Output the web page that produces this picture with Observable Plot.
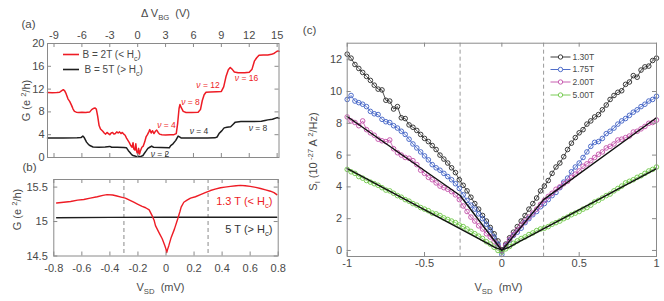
<!DOCTYPE html>
<html><head><meta charset="utf-8">
<script src="https://cdn.jsdelivr.net/npm/d3@7"></script>
<script src="https://cdn.jsdelivr.net/npm/@observablehq/plot@0.6"></script>
<style>
html,body{margin:0;padding:0;background:#fff;}
#wrap{position:relative;width:664px;height:301px;overflow:hidden;background:#fff;}
</style></head><body><div id="wrap"></div>
<script>
// ---------- Panel (a) data: G vs ΔV_BG ----------
const aTicksX = [-9,-6,-3,0,3,6,9,12,15];
const aTicksY = [0,4,8,12,16,20];
const aRedX = [-9.7,-9.2,-8.7,-8.4,-8.2,-8.0,-7.85,-7.7,-7.5,-7.3,-7.1,-6.95,-6.8,-6.6,-6.35,-6.0,-5.6,-5.15,-4.95,-4.75,-4.6,-4.45,-4.3,-4.15,-4.0,-3.75,-3.6,-3.45,-3.3,-3.15,-3.0,-2.85,-2.7,-2.55,-2.4,-2.25,-2.1,-1.95,-1.8,-1.65,-1.5,-1.35,-1.2,-1.05,-0.9,-0.75,-0.6,-0.5,-0.42,-0.3,-0.2,-0.1,0.0,0.1,0.2,0.3,0.45,0.6,0.75,0.9,1.05,1.2,1.3,1.45,1.6,1.75,1.9,2.05,2.2,2.35,2.6,3.0,3.5,3.9,4.15,4.3,4.45,4.55,4.7,4.9,5.2,5.8,6.5,6.75,6.95,7.15,7.35,7.8,8.5,9.0,9.25,9.5,9.75,9.95,10.15,10.4,10.8,11.5,12.0,12.3,12.55,12.8,13.05,13.5,14.0,14.4,14.7,14.95,15.1,15.2];
const aRedY = [11.4,11.35,11.4,11.45,11.7,11.9,11.7,11.2,10.3,9.8,9.1,8.5,8.1,7.95,7.9,7.95,7.9,8.0,8.4,8.6,8.7,8.5,7.2,5.6,5.0,4.6,4.3,4.1,4.4,4.2,4.0,4.3,4.4,4.1,4.2,4.5,4.3,4.5,4.2,4.4,4.1,3.9,3.4,3.0,2.6,2.1,1.8,2.6,1.5,1.3,2.4,1.0,0.6,1.6,0.6,1.2,1.8,2.0,2.7,3.6,4.0,4.5,4.9,4.3,4.7,4.2,4.6,4.8,4.4,4.1,4.0,3.95,4.0,4.0,4.2,6.0,8.6,9.3,8.7,8.1,7.9,7.9,7.95,8.4,10.0,11.0,11.45,11.5,11.55,11.6,12.4,14.2,15.4,15.8,15.5,15.0,14.85,14.85,14.95,15.5,16.9,17.5,17.95,18.0,18.0,18.1,18.3,18.6,18.7,18.6];
const aBlkX = [-9.7,-8,-6.5,-6.1,-5.9,-5.75,-5.5,-5.3,-5.15,-4.8,-4.2,-3.5,-3.0,-2.8,-2.2,-1.5,-1.2,-1.0,-0.85,-0.65,-0.5,-0.3,-0.1,0.1,0.3,0.57,0.75,0.93,1.1,1.3,1.5,1.7,2.5,3.4,3.55,3.8,4.1,4.35,4.5,4.7,6,7.5,8.3,8.55,8.75,8.9,9.1,9.3,9.6,10.0,10.25,10.5,11.1,12,13.3,13.7,14,14.5,15.0,15.2];
const aBlkY = [3.4,3.4,3.45,3.5,3.75,3.5,2.7,2.3,2.1,1.85,1.8,1.85,1.95,1.8,1.8,1.75,1.7,1.2,0.93,0.5,0.35,0.25,0.15,0.2,0.15,0.35,0.8,1.2,1.6,1.8,2.0,1.8,1.75,1.7,2.1,2.4,3.0,3.75,3.6,3.4,3.4,3.4,3.45,3.6,4.2,4.45,4.8,5.2,5.3,5.4,5.8,6.2,6.3,6.3,6.35,6.5,6.6,6.7,7.0,6.9];

// ---------- Panel (b) data: G vs V_SD ----------
const bTicksX = [-0.8,-0.6,-0.4,-0.2,0,0.2,0.4,0.6,0.8];
const bTicksY = [14.5,15,15.5];
const bRedX = [-0.78,-0.73,-0.68,-0.63,-0.586,-0.54,-0.49,-0.45,-0.42,-0.38,-0.35,-0.32,-0.29,-0.26,-0.23,-0.2,-0.17,-0.145,-0.12,-0.1,-0.085,-0.075,-0.05,-0.027,-0.01,0.0,0.005,0.012,0.02,0.037,0.06,0.084,0.1,0.108,0.127,0.15,0.175,0.21,0.246,0.28,0.317,0.35,0.389,0.42,0.46,0.5,0.53,0.565,0.6,0.64,0.674,0.71,0.745,0.77,0.79];
const bRedY = [15.27,15.28,15.29,15.31,15.32,15.34,15.36,15.38,15.39,15.385,15.37,15.355,15.34,15.31,15.28,15.25,15.22,15.2,15.17,15.09,15.02,14.94,14.84,14.75,14.66,14.6,14.55,14.6,14.65,14.77,14.89,15.04,15.15,15.21,15.28,15.31,15.34,15.36,15.39,15.42,15.45,15.47,15.49,15.5,15.51,15.52,15.525,15.52,15.51,15.495,15.48,15.46,15.44,15.42,15.39];
const bBlkX = [-0.78,-0.4,0,0.4,0.79];
const bBlkY = [15.055,15.06,15.062,15.063,15.063];
const bDashed = [-0.3,0.3];

// ---------- Panel (c) data: S_I vs V_SD ----------
const cTicksX = [-1,-0.5,0,0.5,1];
const cTicksY = [0,2,4,6,8,10,12];
const cX = [-1,-0.975,-0.95,-0.925,-0.9,-0.875,-0.85,-0.825,-0.8,-0.775,-0.75,-0.725,-0.7,-0.675,-0.65,-0.625,-0.6,-0.575,-0.55,-0.525,-0.5,-0.475,-0.45,-0.425,-0.4,-0.375,-0.35,-0.325,-0.3,-0.275,-0.25,-0.225,-0.2,-0.175,-0.15,-0.125,-0.1,-0.075,-0.05,-0.025,0,0.025,0.05,0.075,0.1,0.125,0.15,0.175,0.2,0.225,0.25,0.275,0.3,0.325,0.35,0.375,0.4,0.425,0.45,0.475,0.5,0.525,0.55,0.575,0.6,0.625,0.65,0.675,0.7,0.725,0.75,0.775,0.8,0.825,0.85,0.875,0.9,0.925,0.95,0.975,1];
const c130 = [12.35,12.1,11.7,11.45,11.2,10.95,10.7,10.4,10.15,10.1,9.45,9.4,8.9,9.05,8.35,8.3,7.9,7.75,7.55,7.3,7.05,6.85,6.6,6.35,6.0,5.75,5.5,5.2,4.9,4.45,4.1,3.75,3.35,2.95,2.6,2.2,1.85,1.45,1.05,0.6,0.05,0.4,0.8,1.15,1.5,1.85,2.2,2.6,2.95,3.3,3.75,4.05,4.4,4.85,5.25,5.5,5.9,6.35,6.75,7.1,7.4,7.6,7.95,8.15,8.4,8.55,8.85,9.15,9.5,9.75,9.95,10.05,10.45,10.6,11.0,10.9,11.35,11.55,11.6,11.95,12.1];
const c175 = [9.5,9.75,9.4,9.3,9.2,9.05,8.75,8.6,8.55,8.25,8.1,8.05,7.85,7.7,7.5,7.3,7.0,6.7,6.45,6.2,5.95,5.7,5.4,5.2,5.05,4.85,4.65,4.45,4.2,3.9,3.5,3.15,2.85,2.6,2.3,2.0,1.65,1.3,0.85,0.4,-0.25,0.3,0.65,0.95,1.15,1.4,1.75,2.0,2.25,2.45,2.75,2.95,3.2,3.45,3.65,3.95,4.3,4.55,4.95,5.25,5.5,5.85,6.2,6.55,6.8,6.85,7.05,7.35,7.5,7.7,7.95,8.15,8.3,8.5,8.7,8.85,9.05,9.2,9.4,9.5,9.7];
const c200 = [8.4,8.15,8.05,7.85,8.15,7.6,7.4,7.25,7.0,6.9,6.85,6.95,6.4,6.15,6.0,5.85,5.8,5.65,5.4,5.05,4.85,4.6,4.45,4.25,4.05,3.95,3.85,3.7,3.5,3.2,2.8,2.45,2.1,1.85,1.55,1.35,1.05,0.85,0.55,0.25,0.0,0.35,0.7,1.0,1.3,1.6,1.85,2.1,2.35,2.6,2.9,3.15,3.4,3.6,3.85,4.0,4.2,4.35,4.6,4.8,5.0,5.3,5.45,5.65,5.85,6.05,6.2,6.45,6.55,6.7,6.95,7.0,7.1,7.2,7.45,7.5,7.65,7.8,8.0,8.05,8.2];
const c500 = [5.1,4.95,4.85,4.65,4.55,4.4,4.3,4.2,4.1,3.95,3.8,3.75,3.6,3.45,3.35,3.2,3.1,2.95,2.85,2.7,2.6,2.5,2.35,2.3,2.2,2.05,1.95,1.85,1.75,1.6,1.5,1.35,1.2,1.05,0.9,0.75,0.55,0.4,0.2,0.0,-0.1,0.1,0.25,0.45,0.6,0.75,0.85,1.0,1.1,1.25,1.35,1.4,1.5,1.65,1.75,1.85,2.0,2.1,2.25,2.35,2.45,2.6,2.7,2.85,3.05,3.15,3.3,3.45,3.55,3.75,3.9,4.05,4.25,4.35,4.45,4.6,4.7,4.85,5.0,5.1,5.25];
const fit200X = [-1,-0.27,0,0.27,1];
const fit200Y = [8.43,3.46,0,3.2,8.35];
const fit500X = [-1,-0.15,-0.08,-0.04,0,0.04,0.08,0.15,1];
const fit500Y = [5.15,0.75,0.38,0.17,0.06,0.17,0.38,0.75,5.15];
const cDashed = [-0.27,0.27];
const cSeriesNames = ["1.30T","1.75T","2.00T","5.00T"];

// ---------- styling ----------
const W = 664, H = 301;
const FONT = '"Liberation Sans", Arial, sans-serif';
const TXT = "#4a4a4a", FRAME = "#8a8a8a", RED = "#ee1c25", BLK = "#1e1e1e";
const cColors = ["#262626","#3d5fc4","#c24ea8","#6cc644"];
const STYLE = `position:absolute;left:0;top:0;background:transparent;overflow:visible;font-family:${FONT};`;
const fmt = d => String(d);

function T(p, txt, X, Y, o = {}) {
  return Plot.text([txt], {frameAnchor: "top-left", dx: X - p.ml, dy: Y - p.mt, text: d => d,
    textAnchor: "middle", lineAnchor: "middle", fill: TXT, fontSize: 11, ...o});
}
function inTicks(p, xt, yt, len = 4) {
  const iw = W - p.ml - p.mr, ih = H - p.mt - p.mb;
  return [
    Plot.ruleX(xt, {x: d => d, insetTop: ih - len, stroke: FRAME}),
    Plot.ruleX(xt, {x: d => d, insetBottom: ih - len, stroke: FRAME}),
    Plot.ruleY(yt, {y: d => d, insetRight: iw - len, stroke: FRAME}),
    Plot.ruleY(yt, {y: d => d, insetLeft: iw - len, stroke: FRAME})
  ];
}
const lineSym = half => ({draw(ctx) { ctx.moveTo(-half, 0); ctx.lineTo(half, 0); }});
const markSym = (half, r) => ({draw(ctx) {
  ctx.moveTo(-half, 0); ctx.lineTo(-r, 0); ctx.moveTo(r, 0); ctx.lineTo(half, 0);
  ctx.moveTo(r, 0); ctx.arc(0, 0, r, 0, 2 * Math.PI);
}});

function richify(svg) {
  const NS = "http://www.w3.org/2000/svg";
  svg.querySelectorAll("text").forEach(t => {
    const s = t.textContent;
    if (!/[_^*]\{/.test(s)) return;
    while (t.firstChild) t.removeChild(t.firstChild);
    const re = /([_^*])\{([^}]*)\}|([^_^*]+)/g;
    let m, shift = 0;
    while ((m = re.exec(s))) {
      const ts = document.createElementNS(NS, "tspan");
      let target = 0, size = null, italic = false, txt;
      if (m[1]) {
        txt = m[2];
        if (m[1] === "_") { target = 0.3; size = 0.7; }
        else if (m[1] === "^") { target = -0.4; size = 0.7; }
        else italic = true;
      } else txt = m[3];
      const d = target - shift;
      if (size) { ts.setAttribute("font-size", (size * 100) + "%"); if (d) ts.setAttribute("dy", (d / size).toFixed(3) + "em"); }
      else if (d) ts.setAttribute("dy", d.toFixed(3) + "em");
      if (italic) ts.setAttribute("font-style", "italic");
      ts.textContent = txt;
      t.appendChild(ts);
      shift = target;
    }
  });
}

const wrap = document.getElementById("wrap");

// ---------- Panel (a) ----------
const pa = {ml: 47, mr: 385.5, mt: 43, mb: 144};
const plotA = Plot.plot({
  width: W, height: H, marginLeft: pa.ml, marginRight: pa.mr, marginTop: pa.mt, marginBottom: pa.mb,
  style: STYLE,
  x: {domain: [-9.7, 15.2]},
  y: {domain: [0, 20]},
  marks: [
    Plot.line(aBlkX, {x: aBlkX, y: aBlkY, stroke: BLK, strokeWidth: 1.5}),
    Plot.line(aRedX, {x: aRedX, y: aRedY, stroke: RED, strokeWidth: 1.5}),
    Plot.frame({stroke: FRAME}),
    ...inTicks(pa, aTicksX, aTicksY),
    Plot.axisX({anchor: "top", ticks: aTicksX, tickSize: 0, tickPadding: 4.5, tickFormat: fmt, fontSize: 11, fill: TXT, label: null}),
    Plot.axisY({anchor: "left", ticks: aTicksY, tickSize: 0, tickPadding: 3, tickFormat: fmt, fontSize: 11, fill: TXT, label: null}),
    T(pa, "(a)", 28, 24, {fontSize: 11.5}),
    T(pa, "Δ V_{BG}  (V)", 165, 13),
    T(pa, "G (e ^{2}/h)", 26, 100, {rotate: -90}),
    Plot.dot(["l"], {frameAnchor: "top-left", dx: 70.5 - pa.ml, dy: 54 - pa.mt, symbol: lineSym(8), r: 4, stroke: RED, strokeWidth: 1.6}),
    Plot.dot(["l"], {frameAnchor: "top-left", dx: 70.5 - pa.ml, dy: 69 - pa.mt, symbol: lineSym(8), r: 4, stroke: BLK, strokeWidth: 1.6}),
    T(pa, "B = 2T (< H_{c})", 82, 54, {textAnchor: "start", fontSize: 10}),
    T(pa, "B = 5T (> H_{c})", 84, 69, {textAnchor: "start", fontSize: 10}),
    T(pa, "*{ν} = 4", 166, 125, {fill: RED, fontSize: 8.5}),
    T(pa, "*{ν} = 8", 190, 102, {fill: RED, fontSize: 8.5}),
    T(pa, "*{ν} = 12", 207.5, 85, {fill: RED, fontSize: 8.5}),
    T(pa, "*{ν} = 16", 246, 78, {fill: RED, fontSize: 8.5}),
    T(pa, "*{ν} = 4", 198.5, 131, {fill: "#333", fontSize: 8.5}),
    T(pa, "*{ν} = 8", 257.5, 128, {fill: "#333", fontSize: 8.5}),
    T(pa, "*{ν} = 2", 159.5, 154, {fill: "#333", fontSize: 8.5, clip: true})
  ]
});

// ---------- Panel (b) ----------
const pb = {ml: 53.3, mr: 386.3, mt: 179, mb: 45.5};
const plotB = Plot.plot({
  width: W, height: H, marginLeft: pb.ml, marginRight: pb.mr, marginTop: pb.mt, marginBottom: pb.mb,
  style: STYLE,
  x: {domain: [-0.8, 0.8]},
  y: {domain: [14.5, 15.61]},
  marks: [
    Plot.ruleX(bDashed, {x: d => d, stroke: "#8a8a8a", strokeDasharray: "4,3"}),
    Plot.line(bBlkX, {x: bBlkX, y: bBlkY, stroke: BLK, strokeWidth: 1.4}),
    Plot.line(bRedX, {x: bRedX, y: bRedY, stroke: RED, strokeWidth: 1.4}),
    Plot.frame({stroke: FRAME}),
    ...inTicks(pb, bTicksX, bTicksY),
    Plot.axisX({anchor: "bottom", ticks: bTicksX, tickSize: 0, tickPadding: 8, tickFormat: fmt, fontSize: 11, fill: TXT, label: null}),
    Plot.axisY({anchor: "left", ticks: bTicksY, tickSize: 0, tickPadding: 6, tickFormat: fmt, fontSize: 11, fill: TXT, label: null}),
    T(pb, "(b)", 29, 167, {fontSize: 11.5}),
    T(pb, "G (e ^{2}/h)", 17, 209, {rotate: -90}),
    T(pb, "V_{SD}  (mV)", 160, 287),
    T(pb, "1.3 T (< H_{c})", 272, 200.7, {textAnchor: "end", fill: RED}),
    T(pb, "5 T (> H_{c})", 272, 228.5, {textAnchor: "end", fill: "#333"})
  ]
});

// ---------- Panel (c) ----------
const pc = {ml: 346.7, mr: 8, mt: 42.7, mb: 45};
const cSeries = [c130, c175, c200, c500];
const legendY = [56.5, 69, 81.5, 94.5];
const plotC = Plot.plot({
  width: W, height: H, marginLeft: pc.ml, marginRight: pc.mr, marginTop: pc.mt, marginBottom: pc.mb,
  style: STYLE,
  x: {domain: [-1, 1]},
  y: {domain: [-0.38, 13.04]},
  marks: [
    Plot.ruleX(cDashed, {x: d => d, stroke: "#9a9a9a", strokeDasharray: "4,3"}),
    ...cSeries.flatMap((s, i) => [
      Plot.line(cX, {x: cX, y: s, stroke: cColors[i], strokeWidth: 0.8}),
      Plot.dot(cX, {x: cX, y: s, r: 2.3, stroke: cColors[i], strokeWidth: 0.9, fill: "none"})
    ]),
    Plot.line(fit200X, {x: fit200X, y: fit200Y, stroke: "#111", strokeWidth: 1.4}),
    Plot.line(fit500X, {x: fit500X, y: fit500Y, stroke: "#111", strokeWidth: 1.4, curve: "monotone-x"}),
    Plot.frame({stroke: FRAME}),
    ...inTicks(pc, cTicksX, cTicksY),
    Plot.axisX({anchor: "bottom", ticks: cTicksX, tickSize: 0, tickPadding: 3, tickFormat: fmt, fontSize: 11, fill: TXT, label: null}),
    Plot.axisY({anchor: "left", ticks: cTicksY, tickSize: 0, tickPadding: 5, tickFormat: fmt, fontSize: 11, fill: TXT, label: null}),
    T(pc, "(c)", 309, 30, {fontSize: 11.5}),
    T(pc, "S_{I} (10^{ -27} A ^{2}/Hz)", 313, 151, {rotate: -90}),
    T(pc, "V_{SD}  (mV)", 498, 287),
    ...cSeriesNames.flatMap((n, i) => [
      Plot.dot([n], {frameAnchor: "top-left", dx: 560 - pc.ml, dy: legendY[i] - pc.mt, symbol: markSym(10, 2.2), r: 3, stroke: cColors[i], strokeWidth: 0.9, fill: "none"}),
      T(pc, n, 572, legendY[i], {textAnchor: "start", fontSize: 8.5})
    ])
  ]
});

[plotA, plotB, plotC].forEach(p => { richify(p); wrap.appendChild(p); });
</script></body></html>
